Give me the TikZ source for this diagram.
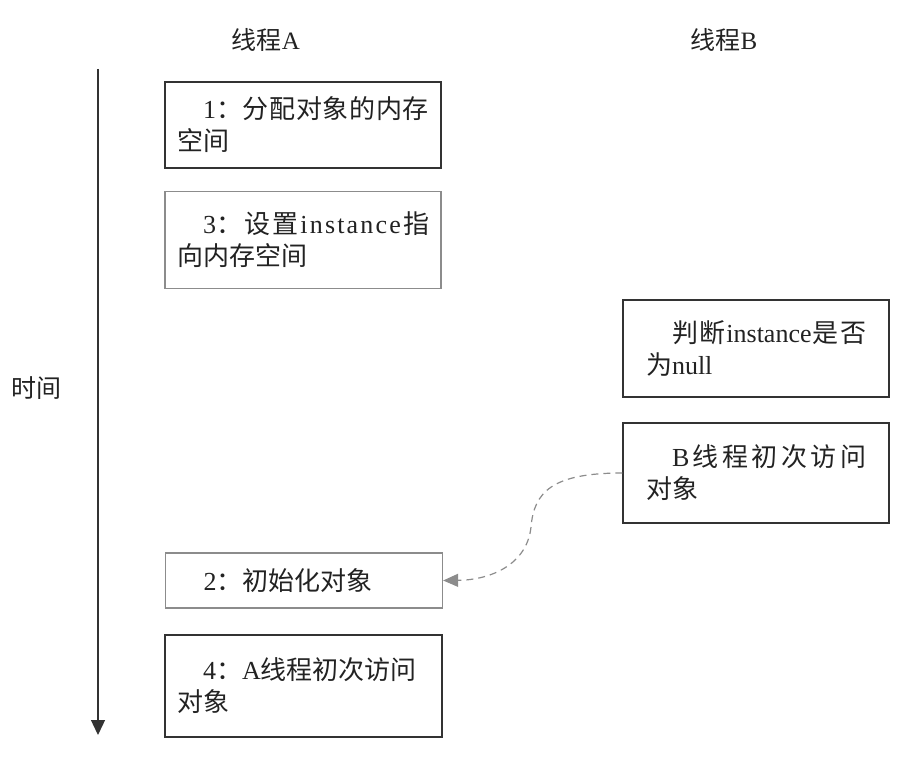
\documentclass[tikz,border=0pt]{standalone}
\usepackage{fontspec}
\setmainfont{Liberation Serif}
\newfontfamily\cjk{Noto Sans CJK SC}
\usetikzlibrary{arrows.meta}
\definecolor{darkline}{HTML}{333333}
\definecolor{lightline}{HTML}{8C8C8C}
\definecolor{txt}{HTML}{222222}
\newcommand\cj[1]{{\cjk #1}}
\newcommand\gl{\hskip 0pt plus 1fil\relax}
\newcommand\jline[2]{\makebox[#1][s]{#2}}
\begin{document}
\begin{tikzpicture}[x=1pt,y=-1pt,
  box/.style={draw=darkline, line width=1.3pt, inner xsep=12pt, inner ysep=0pt,
    align=left, font=\fontsize{26}{32}\selectfont, text=txt, anchor=center},
  lightbox/.style={box, draw=lightline},
  rbox/.style={box, inner xsep=23pt},
  title/.style={font=\fontsize{25}{30}\selectfont, text=txt}]
\useasboundingbox (0,0) rectangle (912,762);
\node[title] (ta) at (266,40) {\cj{线程}A};
\node[title] (tb) at (724,40) {\cj{线程}B};
\node[title] (time) at (37,388) {\cj{时间}};
\coordinate (axtop) at (98,69);
\coordinate (axbot) at (98,735);
\draw[line width=1.3pt, darkline, -{Triangle[length=15pt,width=14pt]}] (axtop) -- (axbot);
\node[box, minimum width=276pt, minimum height=86pt, text width=252pt] (b1) at (303,125)
  {\jline{252pt}{\hspace*{1em}1\cj{：}\gl\cj{分}\gl\cj{配}\gl\cj{对}\gl\cj{象}\gl\cj{的}\gl\cj{内}\gl\cj{存}}\\\cj{空间}};
\node[lightbox, minimum width=276pt, minimum height=97pt, text width=252pt] (b3) at (303,240)
  {\jline{252pt}{\hspace*{1em}3\cj{：}\gl\cj{设}\gl\cj{置}\gl i\gl n\gl s\gl t\gl a\gl n\gl c\gl e\gl\cj{指}}\\\cj{向内存空间}};
\node[rbox, minimum width=266pt, minimum height=97pt, text width=220pt] (bj) at (756,348.5)
  {\jline{220pt}{\hspace*{1em}\cj{判}\gl\cj{断}\gl instance\gl\cj{是}\gl\cj{否}}\\\cj{为}null};
\node[rbox, minimum width=266pt, minimum height=100pt, text width=220pt] (bb) at (756,473)
  {\jline{220pt}{\hspace*{1em}B\gl\cj{线}\gl\cj{程}\gl\cj{初}\gl\cj{次}\gl\cj{访}\gl\cj{问}}\\\cj{对象}};
\node[lightbox, minimum width=277pt, minimum height=55pt, text width=253pt] (b2) at (304,580.5)
  {\hspace*{1em}2\cj{：初始化对象}};
\node[box, minimum width=277pt, minimum height=102pt, text width=253pt] (b4) at (303.5,686)
  {\hspace*{1em}4\cj{：}A\cj{线程初次访问}\\\cj{对象}};
\draw[line width=1.2pt, lightline, dash pattern=on 7pt off 5pt,
  -{Triangle[length=15pt,width=13pt]}]
  (bb.west) .. controls (552,473) and (534,492) .. (531,527)
  .. controls (527,565) and (490,580) .. (b2.east);
\end{tikzpicture}
\end{document}
